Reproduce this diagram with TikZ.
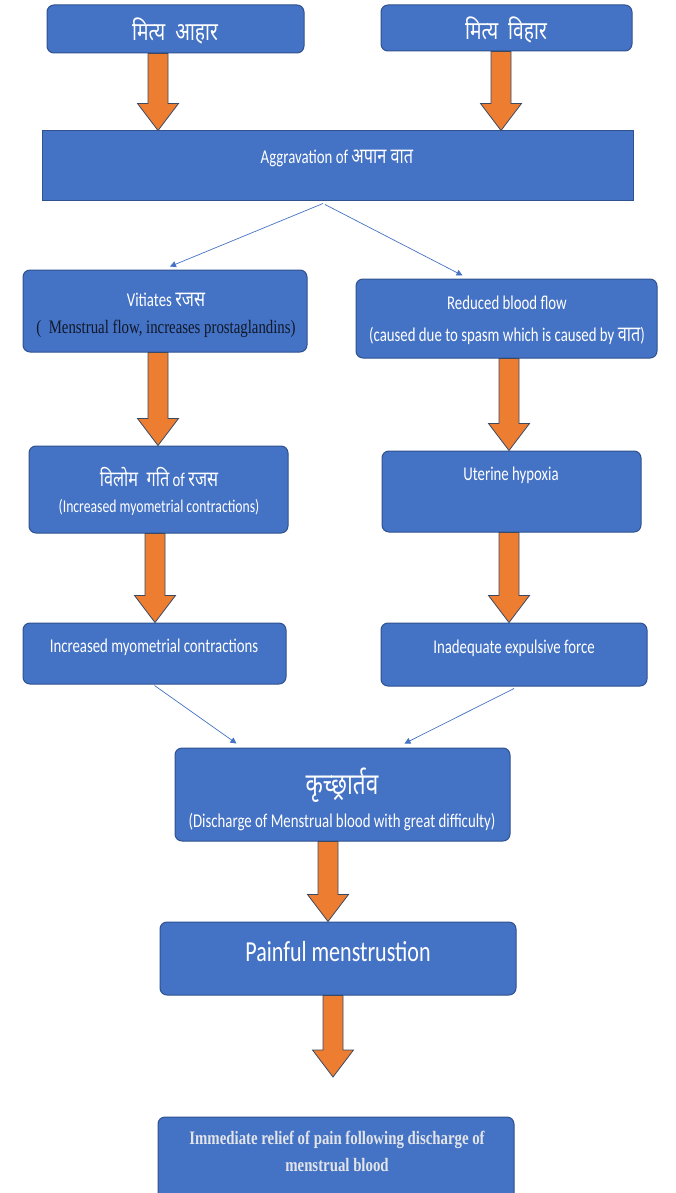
\documentclass[tikz,border=0pt]{standalone}
\usepackage{fontspec}
\setmainfont{Carlito}[FakeStretch=0.76]
\newfontfamily\dev{Noto Sans}[Script=Devanagari,FakeStretch=0.76,Scale=1.1]
\newfontfamily\timesf{Liberation Serif}[FakeStretch=0.78]
\usetikzlibrary{calc,fit,arrows.meta}
\definecolor{boxblue}{HTML}{4472C4}
\definecolor{boxedge}{HTML}{2F528F}
\definecolor{fatorange}{HTML}{ED7D31}
\definecolor{fatedge}{HTML}{3B4A63}
\definecolor{darktext}{HTML}{10182A}
\definecolor{relieftext}{HTML}{E2E4E8}
\tikzset{
  flowbox/.style={draw=boxedge, line width=1pt, fill=boxblue, rounded corners=7pt, inner sep=0pt},
  boxtext/.style={text=white, inner sep=0pt, font=\fontsize{19.5}{23}\selectfont},
  thinarrow/.style={draw=boxblue, line width=0.7pt, -{Triangle[length=6pt,width=6pt]}},
  fatarrow/.style={fill=fatorange, draw=fatedge, line width=0.8pt, line join=miter}
}
\newcommand{\flowbox}[3]{\node[flowbox, fit={#2 #3}] (#1) {};}
\newcommand{\fatarrow}[3]{
  \filldraw[fatarrow] let \p1=(#2), \p2=(#3) in
    ({#1pt-10pt},\y1) -- ({#1pt+10pt},\y1) -- ({#1pt+10pt},{\y2+27pt})
    -- ({#1pt+20.5pt},{\y2+27pt}) -- (#1pt,\y2) -- ({#1pt-20.5pt},{\y2+27pt})
    -- ({#1pt-10pt},{\y2+27pt}) -- cycle;
}

\begin{document}
\begin{tikzpicture}[x=1pt,y=-1pt]
  \path[use as bounding box, fill=white] (0,0) rectangle (676,1193);
  \flowbox{ahar}{(47,5)}{(304,53)}
  \flowbox{vihar}{(381,5)}{(632,51)}
  \node[flowbox, sharp corners, fit={(42,131) (633,200)}] (aggr) {};
  \flowbox{vit}{(23,270)}{(307,352)}
  \flowbox{flow}{(356,279)}{(657,358)}
  \flowbox{vilom}{(29,446)}{(288,533)}
  \flowbox{hypox}{(382,451)}{(641,532)}
  \flowbox{myo}{(23,623)}{(286,684)}
  \flowbox{force}{(381,623)}{(647,686)}
  \flowbox{krich}{(175,748)}{(510,841)}
  \flowbox{pain}{(160,922)}{(516,995)}
  \flowbox{relief}{(158,1117)}{(514,1215)}
  \coordinate (reliefgap) at (333,1077);

  \node[boxtext] (ahartext) at (175,31) {\dev\fontsize{23}{27}\selectfont मित्य\ \ आहार};
  \node[boxtext] (vihartext) at (506,30) {\dev\fontsize{23}{27}\selectfont मित्य\ \ विहार};
  \node[boxtext] (aggrtext) at (337,158) {Aggravation of {\dev अपान\ वात}};
  \node[boxtext] (vit1) at (166,300) {Vitiates {\dev रजस}};
  \node[boxtext, text=darktext, font=\timesf\fontsize{19}{23}\selectfont] (vit2) at (166,329) {(\ \ Menstrual flow, increases prostaglandins)};
  \node[boxtext] (flow1) at (507,303) {Reduced blood flow};
  \node[boxtext] (flow2) at (507,336) {(caused due to spasm which is caused by {\dev वात})};
  \node[boxtext] (vilom1) at (159,477) {{\dev विलोम\ \ गति}\ of {\dev रजस}};
  \node[boxtext, font=\fontsize{18}{22}\selectfont] (vilom2) at (159,507) {(Increased myometrial contractions)};
  \node[boxtext] (hypoxtext) at (511,475) {Uterine hypoxia};
  \node[boxtext] (myotext) at (154,647) {Increased myometrial contractions};
  \node[boxtext] (forcetext) at (514,648) {Inadequate expulsive force};
  \node[boxtext] (krich1) at (342,785) {\dev\fontsize{27}{32}\selectfont कृच्छ्रार्तव};
  \node[boxtext] (krich2) at (342,822) {(Discharge of Menstrual blood with great difficulty)};
  \node[boxtext, font=\fontsize{29}{34}\selectfont] (paintext) at (338,952) {Painful menstrustion};
  \node[boxtext, text=relieftext, font=\timesf\bfseries\fontsize{19}{23}\selectfont] (relief1) at (337,1140) {Immediate relief of pain following discharge of};
  \node[boxtext, text=relieftext, font=\timesf\bfseries\fontsize{19}{23}\selectfont] (relief2) at (337,1165) {menstrual blood};

  \fatarrow{158}{ahar.south}{aggr.north}
  \fatarrow{501}{vihar.south}{aggr.north}
  \fatarrow{158}{vit.south}{vilom.north}
  \fatarrow{509}{flow.south}{hypox.north}
  \fatarrow{155}{vilom.south}{myo.north}
  \fatarrow{509}{hypox.south}{force.north}
  \fatarrow{328}{krich.south}{pain.north}
  \fatarrow{333}{pain.south}{reliefgap}

  \draw[thinarrow] ($(aggr.south)+(-14.5,3)$) -- ($(vit.north)+(5,-3)$);
  \draw[thinarrow] ($(aggr.south)+(-12.5,4)$) -- ($(flow.north)+(-44,-3)$);
  \draw[thinarrow] ($(myo.south)+(0,1)$) -- ($(krich.north)+(-106,-4)$);
  \draw[thinarrow] ($(force.south)+(0,2)$) -- ($(krich.north)+(62,-4)$);
\end{tikzpicture}
\end{document}
